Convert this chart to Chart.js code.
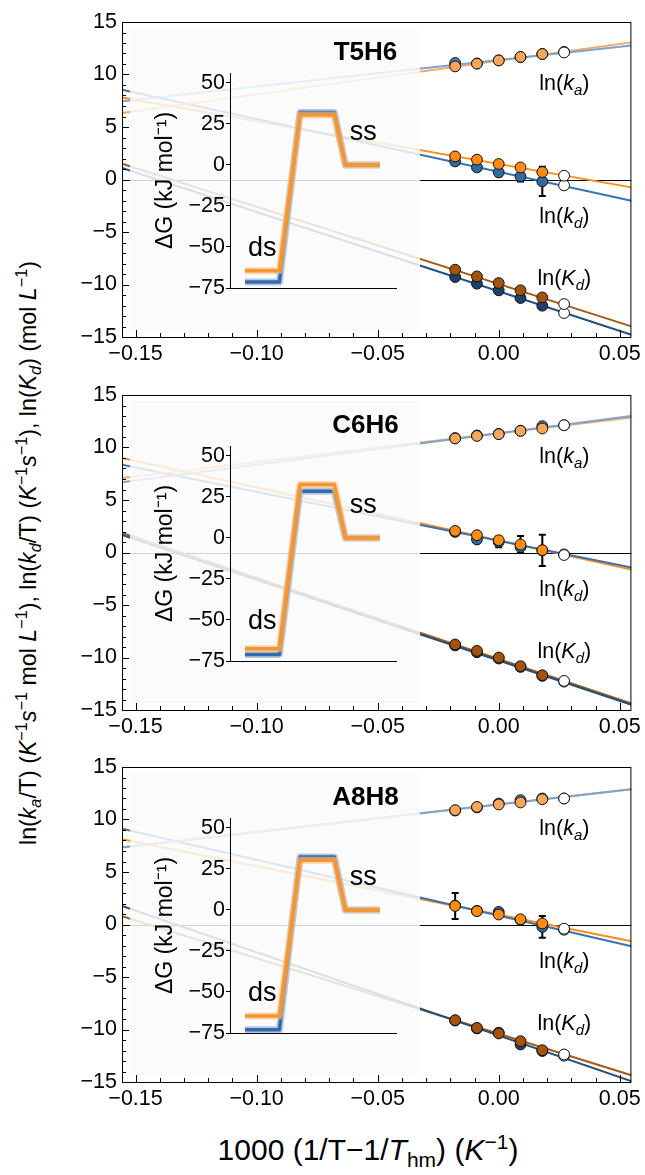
<!DOCTYPE html>
<html>
<head>
<meta charset="utf-8">
<script src="https://cdn.jsdelivr.net/npm/chart.js@4.4.0/dist/chart.umd.min.js"></script>
<style>
  body { margin: 0; background: #fff; font-family: "Liberation Sans", Arial, sans-serif; }
  #fig { position: relative; width: 645px; height: 1175px; overflow: hidden; background: #fff; }
  #fig canvas { position: absolute; }
  .inset { background: rgba(250, 250, 250, 0.84); }
  #xtitle { position: absolute; left: 368px; top: 1150px; transform: translate(-50%, -50%);
            font-size: 30px; white-space: nowrap; color: #000; }
  #ytitle { position: absolute; left: 28px; top: 553px; transform: translate(-50%, -50%) rotate(-90deg);
            font-size: 23.2px; white-space: nowrap; color: #000; }
  sub, sup { font-size: 70%; line-height: 0; }
</style>
</head>
<body>
<div id="fig">
  <div id="ytitle">ln(<i>k</i><sub><i>a</i></sub>/T) (<i>K</i><sup>−1</sup><i>s</i><sup>−1</sup> mol <i>L</i><sup>−1</sup>), ln(<i>k</i><sub><i>d</i></sub>/T) (<i>K</i><sup>−1</sup><i>s</i><sup>−1</sup>), ln(<i>K</i><sub><i>d</i></sub>) (mol <i>L</i><sup>−1</sup>)</div>
  <div id="xtitle">1000 (1/T−1/<i>T</i><sub>hm</sub>) (<i>K</i><sup>−1</sup>)</div>
</div>
<script>
// ---- data ----
const panelNames = ['T5H6', 'C6H6', 'A8H8'];
const xMeasured = [-0.018, -0.009, 0.000, 0.009, 0.018];
const xOpen = 0.027;
const xFit = [-0.1556, 0.0548];

// ln(ka), one row per panel
const kaBlue = [[11.10, 11.05, 11.35, 11.65, 11.95], [10.90, 11.15, 11.30, 11.60, 12.03], [10.85, 11.15, 11.52, 11.84, 12.00]];
const kaOrange = [[10.77, 11.03, 11.34, 11.67, 11.95], [10.86, 11.10, 11.27, 11.58, 11.81], [10.89, 11.20, 11.43, 11.62, 11.93]];
const kaOpen = [[12.15, 12.10], [12.12, 12.12], [12.00, 12.00]]; // blue, orange
const kaFitBlue = [[7.44, 12.77], [6.70, 13.01], [7.36, 12.89]];
const kaFitOrange = [[6.33, 13.06], [7.10, 12.86], [7.33, 12.89]];

// ln(kd)
const kdBlue = [[1.72, 1.15, 0.68, 0.30, -0.18], [1.96, 1.24, 1.01, 0.53, 0.20], [1.80, 1.30, 1.20, 0.45, -0.23]];
const kdOrange = [[2.20, 1.89, 1.48, 1.15, 0.71], [2.06, 1.65, 1.17, 0.76, 0.22], [1.77, 1.27, 0.95, 0.50, 0.10]];
const kdOpen = [[-0.56, 0.36], [-0.18, -0.24], [-0.50, -0.40]];
const kdFitBlue = [[8.55, -2.02], [8.37, -1.43], [9.12, -2.07]];
const kdFitOrange = [[7.82, -0.75], [9.01, -1.62], [8.13, -1.59]];
const kdErrBlue = [[0, 0, 0.38, 0.48, 1.40], [0, 0, 0.50, 0, 1.48], [0, 0, 0, 0, 1.03]];
const kdErrOrange = [[0, 0, 0, 0, 0], [0, 0, 0, 0.80, 0], [1.24, 0, 0, 0, 0]];

// ln(Kd)
const KdBlue = [[-9.29, -9.92, -10.56, -11.29, -12.02], [-8.85, -9.50, -10.10, -10.90, -11.75], [-9.15, -9.90, -10.30, -11.43, -12.05]];
const KdOrange = [[-8.59, -9.23, -9.86, -10.55, -11.23], [-8.76, -9.37, -10.00, -10.83, -11.69], [-9.11, -9.85, -10.38, -11.11, -11.97]];
const KdOpen = [[-12.72, -11.86], [-12.30, -12.23], [-12.50, -12.38]];
const KdFitBlue = [[1.09, -14.78], [1.68, -14.50], [1.76, -14.92]];
const KdFitOrange = [[1.50, -13.99], [1.86, -14.38], [0.80, -14.35]];

// inset: free energy profile ds -> TS -> ss
const pathX = [0.5, 1.5, 2.1, 3.1, 3.42, 4.42];
const dGBlue = [[-71.4, -71.4, 32.0, 32.0, 0, 0], [-71.0, -71.0, 28.5, 28.5, 0, 0], [-73.0, -73.0, 32.2, 32.2, 0, 0]];
const dGOrange = [[-64.5, -64.5, 30.4, 30.4, 0, 0], [-67.5, -67.5, 32.5, 32.5, 0, 0], [-64.6, -64.6, 30.3, 30.3, 0, 0]];

// ---- look ----
const FONT = '"Liberation Sans", Arial, Helvetica, sans-serif';
const TICK_SIZE = 21.5;
const panelTop = [0, 373, 745];
const colors = {
    kaBlue: '#4b7db3', kaBlueLine: '#7ba4cf',
    kaOrange: '#f9a65a', kaOrangeLine: '#f7a75c',
    kdBlue: '#2f6aa3', kdBlueLine: '#3a73b0',
    kdOrange: '#ff8b10', kdOrangeLine: '#ff8c1a',
    KdBlue: '#1c426b', KdBlueLine: '#24507f',
    KdOrange: '#a4520c', KdOrangeLine: '#a85812',
};

Chart.defaults.font.family = FONT;
Chart.defaults.color = '#000';

const minus = v => String(v).replace('-', '\u2212');
const toPoints = (xs, ys) => xs.map((x, i) => ({x: x, y: ys[i]}));

function drawLn(ctx, cx, cy, letter, sub) {
    const big = `${TICK_SIZE}px ${FONT}`;
    const ital = `italic ${TICK_SIZE}px ${FONT}`;
    const small = `italic 15px ${FONT}`;
    const parts = [['ln(', big, 0], [letter, ital, 0], [sub, small, 5], [')', big, 0]];
    let w = 0;
    parts.forEach(p => { ctx.font = p[1]; w += ctx.measureText(p[0]).width; });
    let x = cx - w / 2;
    ctx.textAlign = 'left';
    ctx.textBaseline = 'alphabetic';
    parts.forEach(p => {
        ctx.font = p[1];
        ctx.fillText(p[0], x, cy + 7 + p[2]);
        x += ctx.measureText(p[0]).width;
    });
}

const mainDecor = {
    id: 'mainDecor',
    beforeDatasetsDraw(chart, args, opts) {
        const {ctx, chartArea: a, scales: {x, y}} = chart;
        ctx.save();
        // zero line
        const y0 = Math.round(y.getPixelForValue(0)) + 0.5;
        ctx.strokeStyle = '#000';
        ctx.lineWidth = 1;
        ctx.beginPath();
        ctx.moveTo(a.left, y0);
        ctx.lineTo(a.right, y0);
        ctx.stroke();
        // error bars
        ctx.lineWidth = 2;
        opts.errors.forEach(e => {
            xMeasured.forEach((xv, i) => {
                if (!e.err[i]) return;
                const px = x.getPixelForValue(xv);
                const top = y.getPixelForValue(e.val[i] + e.err[i]);
                const bot = y.getPixelForValue(e.val[i] - e.err[i]);
                ctx.beginPath();
                ctx.moveTo(px, top); ctx.lineTo(px, bot);
                ctx.moveTo(px - 3.5, top); ctx.lineTo(px + 3.5, top);
                ctx.moveTo(px - 3.5, bot); ctx.lineTo(px + 3.5, bot);
                ctx.stroke();
            });
        });
        ctx.restore();
    },
    afterDraw(chart) {
        const {ctx, chartArea: a, scales: {x, y}} = chart;
        ctx.save();
        ctx.strokeStyle = '#000';
        ctx.lineWidth = 1;
        ctx.strokeRect(a.left + 0.5, a.top + 0.5, a.right - a.left - 1, a.bottom - a.top);
        ctx.beginPath();
        for (let v = -15; v <= 15; v++) {
            const py = Math.round(y.getPixelForValue(v)) + 0.5;
            const len = v % 5 === 0 ? 7 : 4;
            ctx.moveTo(a.left, py); ctx.lineTo(a.left + len, py);
        }
        for (let k = -15; k <= 5; k++) {
            const px = Math.round(x.getPixelForValue(k / 100)) + 0.5;
            const len = k % 5 === 0 ? 7 : 4;
            ctx.moveTo(px, a.bottom); ctx.lineTo(px, a.bottom - len);
        }
        ctx.stroke();

        ctx.fillStyle = '#000';
        const lx = x.getPixelForValue(0.0271);
        drawLn(ctx, lx, y.getPixelForValue(9.2), 'k', 'a');
        drawLn(ctx, lx, y.getPixelForValue(-3.45), 'k', 'd');
        drawLn(ctx, lx, y.getPixelForValue(-9.4), 'K', 'd');
        ctx.restore();
    }
};

// inset sits over the main plot, so the panel name is drawn here to stay on top
const insetDecor = {
    id: 'insetDecor',
    afterDatasetsDraw(chart, args, opts) {
        const {ctx, scales: {x, y}} = chart;
        ctx.save();
        ctx.fillStyle = '#000';
        ctx.font = `27px ${FONT}`;
        ctx.textAlign = 'center';
        ctx.textBaseline = 'middle';
        ctx.fillText('ds', x.getPixelForValue(1.0), y.getPixelForValue(-51));
        ctx.fillText('ss', x.getPixelForValue(3.94), y.getPixelForValue(20));
        ctx.font = `bold 26px ${FONT}`;
        ctx.fillText(opts.name, 235.5, 25);
        ctx.restore();
    }
};

function lineSet(fit, color) {
    return {
        type: 'line', data: toPoints(xFit, fit), borderColor: color, borderWidth: 2,
        pointRadius: 0, order: 10
    };
}

function pointSet(vals, color, order) {
    return {
        type: 'scatter', data: toPoints(xMeasured, vals), backgroundColor: color,
        borderColor: '#111', borderWidth: 1, pointRadius: 5.4, order: order
    };
}

function openSet(vals) {
    return {
        type: 'scatter', data: vals.map(v => ({x: xOpen, y: v})), backgroundColor: '#fff',
        borderColor: '#111', borderWidth: 1, pointRadius: 5.4, order: 1
    };
}

function makeMain(p) {
    const canvas = document.createElement('canvas');
    canvas.width = 645;
    canvas.height = 372;
    canvas.style.left = '0px';
    canvas.style.top = panelTop[p] + 'px';
    document.getElementById('fig').appendChild(canvas);

    const datasets = [
        lineSet(kaFitBlue[p], colors.kaBlueLine), lineSet(kaFitOrange[p], colors.kaOrangeLine),
        lineSet(kdFitBlue[p], colors.kdBlueLine), lineSet(kdFitOrange[p], colors.kdOrangeLine),
        lineSet(KdFitBlue[p], colors.KdBlueLine), lineSet(KdFitOrange[p], colors.KdOrangeLine),
        pointSet(kaBlue[p], colors.kaBlue, 4), pointSet(kaOrange[p], colors.kaOrange, 3),
        pointSet(kdBlue[p], colors.kdBlue, 4), pointSet(kdOrange[p], colors.kdOrange, 3),
        pointSet(KdBlue[p], colors.KdBlue, 4), pointSet(KdOrange[p], colors.KdOrange, 3),
        openSet(kaOpen[p]), openSet(kdOpen[p]), openSet(KdOpen[p]),
    ];

    new Chart(canvas, {
        type: 'scatter',
        data: {datasets: datasets},
        options: {
            responsive: false,
            animation: false,
            events: [],
            devicePixelRatio: 1,
            layout: {padding: {top: 22, right: 13, left: 0, bottom: 0}},
            plugins: {
                legend: {display: false},
                tooltip: {enabled: false},
                mainDecor: {
                    errors: [
                        {val: kdBlue[p], err: kdErrBlue[p]},
                        {val: kdOrange[p], err: kdErrOrange[p]},
                    ]
                }
            },
            scales: {
                x: {
                    type: 'linear', min: xFit[0], max: xFit[1],
                    grid: {display: false, drawTicks: false},
                    border: {display: false},
                    afterFit: s => { s.height = 35; },
                    ticks: {
                        stepSize: 0.05, includeBounds: false, padding: 4, autoSkip: false, maxRotation: 0,
                        font: {size: TICK_SIZE}, color: '#000',
                        callback: v => minus(v.toFixed(2))
                    }
                },
                y: {
                    type: 'linear', min: -15, max: 15,
                    grid: {display: false, drawTicks: false},
                    border: {display: false},
                    afterFit: s => { s.width = 122; },
                    ticks: {
                        stepSize: 5, padding: 5, font: {size: TICK_SIZE}, color: '#000',
                        callback: v => minus(v)
                    }
                }
            }
        },
        plugins: [mainDecor]
    });
}

function profileSet(vals, color, width, order) {
    return {
        data: toPoints(pathX, vals), borderColor: color, borderWidth: width,
        pointRadius: 0, order: order, borderJoinStyle: 'round', borderCapStyle: 'butt'
    };
}

function makeInset(p) {
    const canvas = document.createElement('canvas');
    canvas.className = 'inset';
    canvas.width = 290;
    canvas.height = 302;
    canvas.style.left = '130px';
    canvas.style.top = (panelTop[p] + 28) + 'px';
    document.getElementById('fig').appendChild(canvas);

    new Chart(canvas, {
        type: 'line',
        data: {
            datasets: [
                profileSet(dGBlue[p], 'rgba(120,160,205,0.55)', 7, 4),
                profileSet(dGBlue[p], '#356aa6', 3.5, 3),
                profileSet(dGOrange[p], 'rgba(250,190,130,0.6)', 7, 2),
                profileSet(dGOrange[p], '#f7952e', 3.5, 1),
            ]
        },
        options: {
            responsive: false,
            animation: false,
            events: [],
            devicePixelRatio: 1,
            layout: {padding: {top: 45, right: 24, left: 18, bottom: 42}},
            plugins: {legend: {display: false}, tooltip: {enabled: false}, insetDecor: {name: panelNames[p]}},
            scales: {
                x: {
                    type: 'linear', min: 0.063, max: 4.894,
                    ticks: {display: false},
                    grid: {display: false, drawTicks: false},
                    border: {display: true, color: '#000', width: 1},
                    afterFit: s => { s.height = 0; }
                },
                y: {
                    type: 'linear', min: -75, max: 56,
                    grid: {display: true, drawOnChartArea: false, drawTicks: true, tickLength: 4, color: '#000'},
                    border: {display: true, color: '#000', width: 1},
                    afterFit: s => { s.width = 82; },
                    title: {display: true, text: 'ΔG (kJ mol⁻¹)', font: {size: 23}, padding: 4, color: '#000'},
                    ticks: {
                        stepSize: 25, includeBounds: false, padding: 1, font: {size: TICK_SIZE}, color: '#000',
                        callback: v => minus(v)
                    }
                }
            }
        },
        plugins: [insetDecor]
    });
}

for (let p = 0; p < 3; p++) {
    makeMain(p);
    makeInset(p);
}
</script>
</body>
</html>
